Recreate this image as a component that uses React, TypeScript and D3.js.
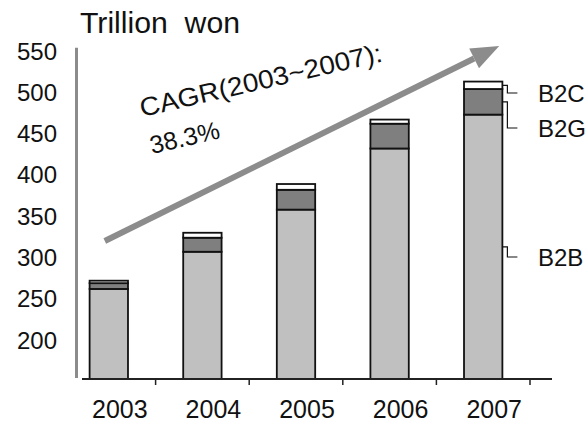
import React from 'react';
import * as d3 from 'd3';

const years = ['2003', '2004', '2005', '2006', '2007'];
const b2b = [262, 307, 358, 432, 473];
const b2g = [7, 17, 24, 30, 31];
const b2c = [3, 6, 7, 5, 9];
const seriesKeys = ['B2B', 'B2G', 'B2C'];
const seriesColors = ['#c0c0c0', '#7f7f7f', '#ffffff'];
const yTicks = [200, 250, 300, 350, 400, 450, 500, 550];
const unitLabel = 'Trillion  won';
const cagrLabel = 'CAGR(2003~2007):';
const cagrValue = '38.3%';

const W = 586;
const H = 425;
const FONT = '"Liberation Sans", Arial, sans-serif';

export default function App() {
  const rows = years.map((yr, i) => ({ year: yr, B2B: b2b[i], B2G: b2g[i], B2C: b2c[i] }));
  const stacked = d3.stack<any>().keys(seriesKeys)(rows);

  const x = d3.scaleBand<string>().domain(years).range([62, 530]).paddingInner(0.59).paddingOuter(0.295);
  const y = d3.scaleLinear().domain([153, 550]).range([379, 51]);
  const base = y.domain()[0];
  const bw = x.bandwidth();
  const step = x.step();

  const last = years[years.length - 1];
  const barRight = (x(last) as number) + bw;
  const labelY = [257, 128, 93];

  // arrow annotation in data space
  const aStart: [number, number] = [(x('2003') as number) + bw / 2 - 4, 320];
  const aEnd: [number, number] = [(x('2007') as number) + bw / 2 + 16, 556];
  const sx = aStart[0], sy = y(aStart[1]);
  const ex = aEnd[0], ey = y(aEnd[1]);
  const ang = Math.atan2(ey - sy, ex - sx);
  const headLen = 28, headHalf = 11;
  const bx = ex - headLen * Math.cos(ang), by = ey - headLen * Math.sin(ang);
  const px = -Math.sin(ang), py = Math.cos(ang);

  return (
    <svg width={W} height={H} style={{ position: 'absolute', left: 0, top: 0, background: '#fff' }} fontFamily={FONT}>
      <rect x={0} y={0} width={W} height={H} fill="#fff" />
      {/* title */}
      <text x={80} y={33} fontSize={30} fill="#111" textLength={160} lengthAdjust="spacingAndGlyphs" style={{ whiteSpace: 'pre' }}>
        {unitLabel}
      </text>
      {/* y labels */}
      {yTicks.map((t) => (
        <text key={t} x={57} y={y(t)} fontSize={24} fill="#111" textAnchor="end" dominantBaseline="central">
          {t}
        </text>
      ))}
      {/* y axis line */}
      <line x1={76.5} x2={76.5} y1={y(554)} y2={378} stroke="#8c8c8c" strokeWidth={3} />
      {/* bars */}
      {stacked.map((s, si) => (
        <g key={s.key}>
          {s.map((d: any, i: number) => {
            const lo = Math.max(d[0], base);
            return (
              <rect
                key={i}
                x={x(years[i])}
                y={y(d[1])}
                width={bw}
                height={y(lo) - y(d[1])}
                fill={seriesColors[si]}
                stroke="#111"
                strokeWidth={1.8}
              />
            );
          })}
        </g>
      ))}
      {/* x axis */}
      <line x1={82} x2={552} y1={379} y2={379} stroke="#222" strokeWidth={2} />
      {years.map((yr) => {
        const bx2 = (x(yr) as number) + bw / 2 + step / 2;
        return <line key={yr} x1={bx2} x2={bx2} y1={379} y2={385} stroke="#222" strokeWidth={1.5} />;
      })}
      {years.map((yr) => (
        <text key={yr} x={(x(yr) as number) + bw / 2 + 11} y={418} fontSize={25} fill="#111" textAnchor="middle">
          {yr}
        </text>
      ))}
      {/* leader lines and labels */}
      {stacked.map((s, si) => {
        const d: any = s[s.length - 1];
        const segY = y((Math.max(d[0], base) + d[1]) / 2);
        return (
          <g key={s.key}>
            <path
              d={`M${barRight},${segY}H${barRight + 5}V${labelY[si]}H${barRight + 15}`}
              fill="none"
              stroke="#111"
              strokeWidth={1.2}
            />
            <text x={538} y={labelY[si]} fontSize={24} fill="#111" dominantBaseline="central">
              {s.key}
            </text>
          </g>
        );
      })}
      {/* arrow */}
      <line x1={sx} y1={sy} x2={bx} y2={by} stroke="#8c8c8c" strokeWidth={6} />
      <polygon
        points={`${ex},${ey} ${bx + px * headHalf},${by + py * headHalf} ${bx - px * headHalf},${by - py * headHalf}`}
        fill="#8c8c8c"
      />
      {/* CAGR text */}
      <text x={142} y={117} fontSize={26} fill="#111" transform="rotate(-13 142 117)" textLength={248} lengthAdjust="spacingAndGlyphs">
        {cagrLabel}
      </text>
      <text x={152} y={154} fontSize={25} fill="#111" transform="rotate(-13 152 154)">
        {cagrValue}
      </text>
    </svg>
  );
}
